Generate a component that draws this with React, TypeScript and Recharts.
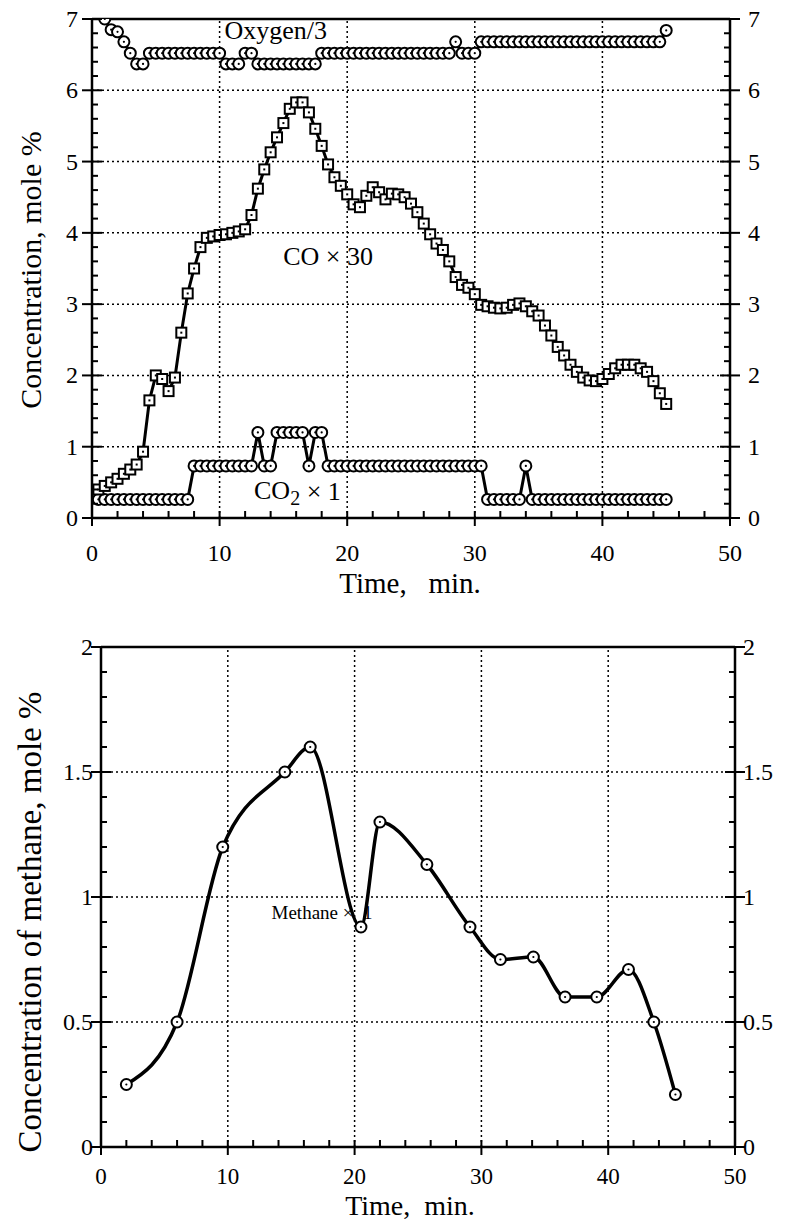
import React from 'react';
import { LineChart, Line, XAxis, YAxis, ReferenceLine, ReferenceDot } from 'recharts';

const FONT = '"Liberation Serif", "Times New Roman", Times, serif';

// ---- upper panel: gas concentrations vs time (min) ----
const times = [
  0.5, 1, 1.5, 2, 2.5, 3, 3.5, 4, 4.5, 5, 5.5, 6, 6.5, 7, 7.5, 8, 8.5, 9, 9.5, 10,
  10.5, 11, 11.5, 12, 12.5, 13, 13.5, 14, 14.5, 15, 15.5, 16, 16.5, 17, 17.5, 18, 18.5, 19, 19.5, 20,
  20.5, 21, 21.5, 22, 22.5, 23, 23.5, 24, 24.5, 25, 25.5, 26, 26.5, 27, 27.5, 28, 28.5, 29, 29.5, 30,
  30.5, 31, 31.5, 32, 32.5, 33, 33.5, 34, 34.5, 35, 35.5, 36, 36.5, 37, 37.5, 38, 38.5, 39, 39.5, 40,
  40.5, 41, 41.5, 42, 42.5, 43, 43.5, 44, 44.5, 45,
];

// Oxygen / 3
const oxygen = [
  null, 7.0, 6.85, 6.82, 6.68, 6.52, 6.37, 6.37, 6.52, 6.52, 6.52, 6.52, 6.52, 6.52, 6.52, 6.52, 6.52, 6.52, 6.52, 6.52,
  6.37, 6.37, 6.37, 6.52, 6.52, 6.37, 6.37, 6.37, 6.37, 6.37, 6.37, 6.37, 6.37, 6.37, 6.37, 6.52, 6.52, 6.52, 6.52, 6.52,
  6.52, 6.52, 6.52, 6.52, 6.52, 6.52, 6.52, 6.52, 6.52, 6.52, 6.52, 6.52, 6.52, 6.52, 6.52, 6.52, 6.68, 6.52, 6.52, 6.52,
  6.68, 6.68, 6.68, 6.68, 6.68, 6.68, 6.68, 6.68, 6.68, 6.68, 6.68, 6.68, 6.68, 6.68, 6.68, 6.68, 6.68, 6.68, 6.68, 6.68,
  6.68, 6.68, 6.68, 6.68, 6.68, 6.68, 6.68, 6.68, 6.68, 6.84,
];

// CO x 30
const co = [
  0.40, 0.45, 0.50, 0.55, 0.62, 0.68, 0.75, 0.93, 1.65, 2.00, 1.95, 1.78, 1.97, 2.60, 3.15, 3.50, 3.80, 3.93, 3.95, 3.97,
  3.98, 4.00, 4.02, 4.05, 4.25, 4.62, 4.89, 5.13, 5.34, 5.54, 5.74, 5.83, 5.83, 5.69, 5.46, 5.22, 4.96, 4.78, 4.66, 4.54,
  4.40, 4.36, 4.52, 4.64, 4.57, 4.47, 4.55, 4.54, 4.50, 4.41, 4.29, 4.13, 3.98, 3.85, 3.76, 3.60, 3.38, 3.27, 3.23, 3.14,
  2.99, 2.97, 2.95, 2.94, 2.95, 2.99, 3.01, 2.97, 2.90, 2.84, 2.70, 2.56, 2.40, 2.28, 2.15, 2.05, 1.97, 1.93, 1.92, 1.95,
  2.02, 2.10, 2.15, 2.15, 2.15, 2.10, 2.05, 1.92, 1.75, 1.60,
];

// CO2 x 1
const co2 = [
  0.26, 0.26, 0.26, 0.26, 0.26, 0.26, 0.26, 0.26, 0.26, 0.26, 0.26, 0.26, 0.26, 0.26, 0.26, 0.73, 0.73, 0.73, 0.73, 0.73,
  0.73, 0.73, 0.73, 0.73, 0.73, 1.2, 0.73, 0.73, 1.2, 1.2, 1.2, 1.2, 1.2, 0.73, 1.2, 1.2, 0.73, 0.73, 0.73, 0.73,
  0.73, 0.73, 0.73, 0.73, 0.73, 0.73, 0.73, 0.73, 0.73, 0.73, 0.73, 0.73, 0.73, 0.73, 0.73, 0.73, 0.73, 0.73, 0.73, 0.73,
  0.73, 0.26, 0.26, 0.26, 0.26, 0.26, 0.26, 0.73, 0.26, 0.26, 0.26, 0.26, 0.26, 0.26, 0.26, 0.26, 0.26, 0.26, 0.26, 0.26,
  0.26, 0.26, 0.26, 0.26, 0.26, 0.26, 0.26, 0.26, 0.26, 0.26,
];

const timeTicks = [0, 2, 4, 6, 8, 10, 12, 14, 16, 18, 20, 22, 24, 26, 28, 30, 32, 34, 36, 38, 40, 42, 44, 46, 48, 50];
const topYTicks = [
  0, 0.2, 0.4, 0.6, 0.8, 1, 1.2, 1.4, 1.6, 1.8, 2, 2.2, 2.4, 2.6, 2.8, 3, 3.2, 3.4, 3.6, 3.8,
  4, 4.2, 4.4, 4.6, 4.8, 5, 5.2, 5.4, 5.6, 5.8, 6, 6.2, 6.4, 6.6, 6.8, 7,
];
const timeGrid = [10, 20, 30, 40];
const topYGrid = [1, 2, 3, 4, 5, 6];

// ---- lower panel: methane ----
const methaneTimes = [2, 6, 9.6, 14.5, 16.5, 20.5, 22, 25.7, 29.1, 31.5, 34.1, 36.6, 39.1, 41.6, 43.6, 45.3];
const methane = [0.25, 0.5, 1.2, 1.5, 1.6, 0.88, 1.3, 1.13, 0.88, 0.75, 0.76, 0.6, 0.6, 0.71, 0.5, 0.21];
const bottomYTicks = [0, 0.1, 0.2, 0.3, 0.4, 0.5, 0.6, 0.7, 0.8, 0.9, 1, 1.1, 1.2, 1.3, 1.4, 1.5, 1.6, 1.7, 1.8, 1.9, 2];
const bottomYGrid = [0.5, 1, 1.5];

const topData = times.map((t, i) => ({ t, oxygen: oxygen[i], co: co[i], co2: co2[i] }));
const methaneData = methaneTimes.map((t, i) => ({ t, methane: methane[i] }));

const isMajor = (v: number, step: number) => Math.abs(v / step - Math.round(v / step)) < 1e-6;

const makeXTick = (labelDy: number, size: number) => (p: any) => {
  const { x, y, payload } = p;
  const major = isMajor(payload.value, 10);
  return (
    <g>
      <line x1={x} x2={x} y1={y} y2={y - 7} stroke="#000" strokeWidth={2} />
      {major && <line x1={x} x2={x} y1={y} y2={y + 8} stroke="#000" strokeWidth={2} />}
      {major && (
        <text x={x} y={y + labelDy} textAnchor="middle" dominantBaseline="central" fontFamily={FONT} fontSize={size} fill="#000">
          {payload.value}
        </text>
      )}
    </g>
  );
};

const makeYTick = (step: number, side: 'left' | 'right', gap: number) => (p: any) => {
  const { x, y, payload } = p;
  const major = isMajor(payload.value, step);
  const dir = side === 'left' ? 1 : -1;
  return (
    <g>
      <line x1={x} x2={x + dir * (major ? 10 : 6)} y1={y} y2={y} stroke="#000" strokeWidth={2} />
      {major && <line x1={x} x2={x - dir * 10} y1={y} y2={y} stroke="#000" strokeWidth={2} />}
      {major && (
        <text
          x={x - dir * gap}
          y={y}
          textAnchor={side === 'left' ? 'end' : 'start'}
          dominantBaseline="central"
          fontFamily={FONT}
          fontSize={24}
          fill="#000"
        >
          {payload.value}
        </text>
      )}
    </g>
  );
};

const CircleDot = (p: any) => {
  const { cx, cy, index } = p;
  if (cx == null || cy == null) return <g key={index} />;
  return (
    <g key={index}>
      <circle cx={cx} cy={cy} r={5.5} fill="#fff" stroke="#000" strokeWidth={2} />
      <circle cx={cx} cy={cy} r={1.1} fill="#000" />
    </g>
  );
};

const SquareDot = (p: any) => {
  const { cx, cy, index } = p;
  if (cx == null || cy == null) return <g key={index} />;
  return (
    <g key={index}>
      <rect x={cx - 5} y={cy - 5} width={10} height={10} fill="#fff" stroke="#000" strokeWidth={2} />
      <rect x={cx - 1} y={cy - 1} width={2} height={2} fill="#000" />
    </g>
  );
};

const textLabel = (content: React.ReactNode, size: number) => (p: any) => {
  const vb = p.viewBox || {};
  return (
    <text
      x={vb.x}
      y={vb.y}
      textAnchor="middle"
      dominantBaseline="central"
      fontFamily={FONT}
      fontSize={size}
      fill="#000"
      style={{ whiteSpace: 'pre' }}
    >
      {content}
    </text>
  );
};

const gridProps = { stroke: '#000', strokeWidth: 1.5, strokeDasharray: '2 3' };
const axisLine = { stroke: '#000', strokeWidth: 2.5 };

function TopChart() {
  return (
    <LineChart width={789} height={600} data={topData} margin={{ top: 19, right: 58, bottom: 81, left: 91 }}>
      <XAxis
        dataKey="t"
        type="number"
        domain={[0, 50]}
        ticks={timeTicks}
        interval={0}
        allowDataOverflow
        height={1}
        tickSize={0}
        tickMargin={0}
        tickLine={false}
        axisLine={axisLine}
        tick={makeXTick(35, 24)}
      />
      <YAxis
        type="number"
        domain={[0, 7]}
        ticks={topYTicks}
        interval={0}
        allowDataOverflow
        width={1}
        tickSize={0}
        tickMargin={0}
        tickLine={false}
        axisLine={axisLine}
        tick={makeYTick(1, 'left', 14)}
      />
      <YAxis
        yAxisId="r"
        orientation="right"
        type="number"
        domain={[0, 7]}
        ticks={topYTicks}
        interval={0}
        allowDataOverflow
        width={1}
        tickSize={0}
        tickMargin={0}
        tickLine={false}
        axisLine={axisLine}
        tick={makeYTick(1, 'right', 18)}
      />
      {timeGrid.map((v) => (
        <ReferenceLine key={'x' + v} x={v} {...gridProps} />
      ))}
      {topYGrid.map((v) => (
        <ReferenceLine key={'y' + v} y={v} {...gridProps} />
      ))}
      <ReferenceLine y={7} stroke="#000" strokeWidth={2.5} />
      <Line dataKey="oxygen" type="linear" stroke="#000" strokeWidth={3} dot={CircleDot} isAnimationActive={false} />
      <Line dataKey="co2" type="linear" stroke="#000" strokeWidth={3} dot={CircleDot} isAnimationActive={false} />
      <Line dataKey="co" type="linear" stroke="#000" strokeWidth={3} dot={SquareDot} isAnimationActive={false} />
      <ReferenceDot x={14.4} y={6.84} r={0} ifOverflow="visible" label={textLabel('Oxygen/3', 26)} />
      <ReferenceDot x={18.5} y={3.67} r={0} ifOverflow="visible" label={textLabel('CO × 30', 26)} />
      <ReferenceDot
        x={16.1}
        y={0.38}
        r={0}
        ifOverflow="visible"
        label={textLabel(
          <>
            CO<tspan dy={7} fontSize={20}>2</tspan>
            <tspan dy={-7}> × 1</tspan>
          </>,
          26,
        )}
      />
    </LineChart>
  );
}

function BottomChart() {
  return (
    <LineChart width={789} height={624} data={methaneData} margin={{ top: 47, right: 53, bottom: 76, left: 100 }}>
      <XAxis
        dataKey="t"
        type="number"
        domain={[0, 50]}
        ticks={timeTicks}
        interval={0}
        allowDataOverflow
        height={1}
        tickSize={0}
        tickMargin={0}
        tickLine={false}
        axisLine={axisLine}
        tick={makeXTick(29, 23)}
      />
      <YAxis
        type="number"
        domain={[0, 2]}
        ticks={bottomYTicks}
        interval={0}
        allowDataOverflow
        width={1}
        tickSize={0}
        tickMargin={0}
        tickLine={false}
        axisLine={axisLine}
        tick={makeYTick(0.5, 'left', 8)}
      />
      <YAxis
        yAxisId="r"
        orientation="right"
        type="number"
        domain={[0, 2]}
        ticks={bottomYTicks}
        interval={0}
        allowDataOverflow
        width={1}
        tickSize={0}
        tickMargin={0}
        tickLine={false}
        axisLine={axisLine}
        tick={makeYTick(0.5, 'right', 8)}
      />
      {timeGrid.map((v) => (
        <ReferenceLine key={'x' + v} x={v} {...gridProps} />
      ))}
      {bottomYGrid.map((v) => (
        <ReferenceLine key={'y' + v} y={v} {...gridProps} />
      ))}
      <ReferenceLine y={2} stroke="#000" strokeWidth={2.5} />
      <Line dataKey="methane" type="monotone" stroke="#000" strokeWidth={3.5} dot={CircleDot} isAnimationActive={false} />
    </LineChart>
  );
}

export default function App() {
  return (
    <div style={{ position: 'relative', width: 789, height: 1224, background: '#fff', fontFamily: FONT }}>
      <style>{'body{margin:0}'}</style>
      <div style={{ position: 'absolute', left: 0, top: 0 }}>
        <TopChart />
      </div>
      <div style={{ position: 'absolute', left: 0, top: 600 }}>
        <BottomChart />
      </div>
      <svg width={789} height={1224} style={{ position: 'absolute', left: 0, top: 0, pointerEvents: 'none' }}>
        <text x={30} y={270} transform="rotate(-90 30 270)" textAnchor="middle" dominantBaseline="central" fontFamily={FONT} fontSize={30}>
          Concentration, mole %
        </text>
        <text x={410} y={583} textAnchor="middle" dominantBaseline="central" fontFamily={FONT} fontSize={29} style={{ whiteSpace: 'pre' }}>
          {'Time,   min.'}
        </text>
        <text x={30} y={922} transform="rotate(-90 30 922)" textAnchor="middle" dominantBaseline="central" fontFamily={FONT} fontSize={33}>
          Concentration of methane, mole %
        </text>
        <text x={410} y={1205} textAnchor="middle" dominantBaseline="central" fontFamily={FONT} fontSize={28} style={{ whiteSpace: 'pre' }}>
          {'Time,  min.'}
        </text>
        <text x={322} y={912} textAnchor="middle" dominantBaseline="central" fontFamily={FONT} fontSize={19} style={{ whiteSpace: 'pre' }}>
          {'Methane ×  1'}
        </text>
      </svg>
    </div>
  );
}
